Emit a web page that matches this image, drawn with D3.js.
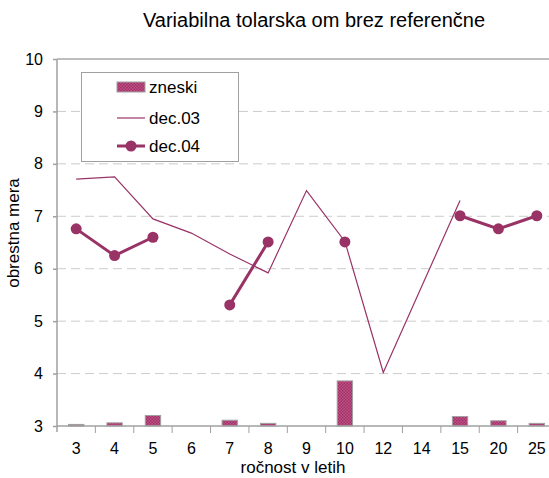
<html>
  <script src="https://d3js.org/d3.v7.min.js"></script>
  <style>
    body { margin: 0; font-family: 'Liberation Sans', Arial, sans-serif; }
  </style>
  <body>
    <svg id="vis" width="549" height="478"></svg>
    <script>
      // ročnost (kategorije)
      categories = ['3', '4', '5', '6', '7', '8', '9', '10', '12', '14', '15', '20', '25']
      // zneski - stolpci (v enotah osi)
      zneski = [3.03, 3.06, 3.2, null, 3.11, 3.05, null, 3.86, null, null, 3.18, 3.1, 3.05]
      dec03 = [7.71, 7.75, 6.95, 6.68, 6.28, 5.92, 7.49, 6.52, 4.02, 5.66, 7.3, null, null]
      dec04 = [6.76, 6.25, 6.6, null, 5.31, 6.51, null, 6.51, null, null, 7.01, 6.76, 7.01]
      yTicks = [3, 4, 5, 6, 7, 8, 9, 10]

      col = '#993366'
      svg = d3.select('#vis')

      x = d3.scaleBand()
        .domain(categories)
        .range([57, 556])

      y = d3.scaleLinear()
        .domain([3, 10])
        .range([426, 59])

      defs = svg.append('defs')
      pat = defs.append('pattern')
        .attr('id', 'dots')
        .attr('width', 3).attr('height', 3)
        .attr('patternUnits', 'userSpaceOnUse')
      pat.append('rect').attr('width', 3).attr('height', 3).attr('fill', '#c0538a')
      pat.append('rect').attr('width', 1.5).attr('height', 1.5).attr('fill', '#9e2f63')
      pat.append('rect').attr('x', 1.5).attr('y', 1.5).attr('width', 1.5).attr('height', 1.5).attr('fill', '#9e2f63')

      // mreža
      yTicks.forEach(t => {
        if (t === 3) return
        svg.append('line')
          .attr('x1', 57).attr('x2', 549)
          .attr('y1', y(t)).attr('y2', y(t))
          .style('stroke', t === 10 ? '#a8a8a8' : '#cccccc')
          .style('stroke-width', t === 10 ? 1.5 : 1)
          .style('stroke-dasharray', t === 10 ? null : '9,5')
      })

      // stolpci
      svg.selectAll('.bar')
        .data(categories.map((c, i) => ({c: c, v: zneski[i]})).filter(d => d.v !== null))
        .enter().append('rect')
        .attr('x', d => x(d.c) + x.bandwidth() * 0.3)
        .attr('width', x.bandwidth() * 0.4)
        .attr('y', d => y(d.v))
        .attr('height', d => y(3) - y(d.v))
        .style('fill', 'url(#dots)')
        .style('stroke', '#a0a0a0')
        .style('stroke-width', 1)

      cx = c => x(c) + x.bandwidth() / 2

      line = d3.line()
        .defined(d => d.v !== null)
        .x(d => cx(d.c))
        .y(d => y(d.v))

      // dec.03 - tanka črta
      svg.append('path')
        .datum(categories.map((c, i) => ({c: c, v: dec03[i]})))
        .attr('d', line)
        .style('fill', 'none')
        .style('stroke', col)
        .style('stroke-width', 1.2)

      d04 = categories.map((c, i) => ({c: c, v: dec04[i]}))
      svg.append('path')
        .datum(d04)
        .attr('d', line)
        .style('fill', 'none')
        .style('stroke', col)
        .style('stroke-width', 3)

      svg.selectAll('.pt')
        .data(d04.filter(d => d.v !== null))
        .enter().append('circle')
        .attr('cx', d => cx(d.c))
        .attr('cy', d => y(d.v))
        .attr('r', 5.5)
        .style('fill', col)

      // osi
      yAxis = svg.append('g')
        .attr('transform', 'translate(57,0)')
        .call(d3.axisLeft(y).tickValues(yTicks).tickFormat(d3.format('d')).tickSize(4).tickPadding(10))
      yAxis.select('.domain').attr('d', 'M0,' + y(10) + 'V' + (y(3) + 6))

      xAxis = svg.append('g')
        .attr('transform', 'translate(0,' + y(3) + ')')
        .call(d3.axisBottom(x).tickSize(0).tickPadding(17))
      xAxis.select('.domain').attr('d', 'M57,0H549')

      categories.slice(1).forEach(c => {
        svg.append('line')
          .attr('x1', x(c)).attr('x2', x(c))
          .attr('y1', y(3)).attr('y2', y(3) + 7)
          .style('stroke', '#a0a0a0')
      })

      svg.selectAll('.domain, .tick line').style('stroke', '#a0a0a0').style('stroke-width', 1.5)
      svg.selectAll('.tick text')
        .style('font-family', 'Liberation Sans, Arial, sans-serif')
        .style('font-size', '16px')
        .style('fill', '#000')

      svg.append('text')
        .attr('x', 314).attr('y', 27)
        .attr('text-anchor', 'middle')
        .style('font-size', '20px')
        .text('Variabilna tolarska om brez referenčne')

      svg.append('text')
        .attr('x', 293).attr('y', 473)
        .attr('text-anchor', 'middle')
        .style('font-size', '17px')
        .text('ročnost v letih')

      svg.append('text')
        .attr('transform', 'translate(19,233) rotate(-90)')
        .attr('text-anchor', 'middle')
        .style('font-size', '17px')
        .text('obrestna mera')

      // legenda
      lg = svg.append('g')
      lg.append('rect')
        .attr('x', 81.5).attr('y', 72.5)
        .attr('width', 157).attr('height', 89)
        .style('fill', '#fff')
        .style('stroke', '#a0a0a0')
      lg.append('rect')
        .attr('x', 117).attr('y', 82).attr('width', 28).attr('height', 10)
        .style('fill', 'url(#dots)')
        .style('stroke', '#a0a0a0')
      lg.append('line')
        .attr('x1', 117).attr('x2', 145).attr('y1', 118).attr('y2', 118)
        .style('stroke', col).style('stroke-width', 1.2)
      lg.append('line')
        .attr('x1', 117).attr('x2', 145).attr('y1', 146).attr('y2', 146)
        .style('stroke', col).style('stroke-width', 3)
      lg.append('circle')
        .attr('cx', 131).attr('cy', 146).attr('r', 5.5)
        .style('fill', col)
      ;[['zneski', 93], ['dec.03', 124], ['dec.04', 152]].forEach(t => {
        lg.append('text')
          .attr('x', 149).attr('y', t[1])
          .style('font-size', '17px')
          .text(t[0])
      })
    </script>
  </body>
</html>
